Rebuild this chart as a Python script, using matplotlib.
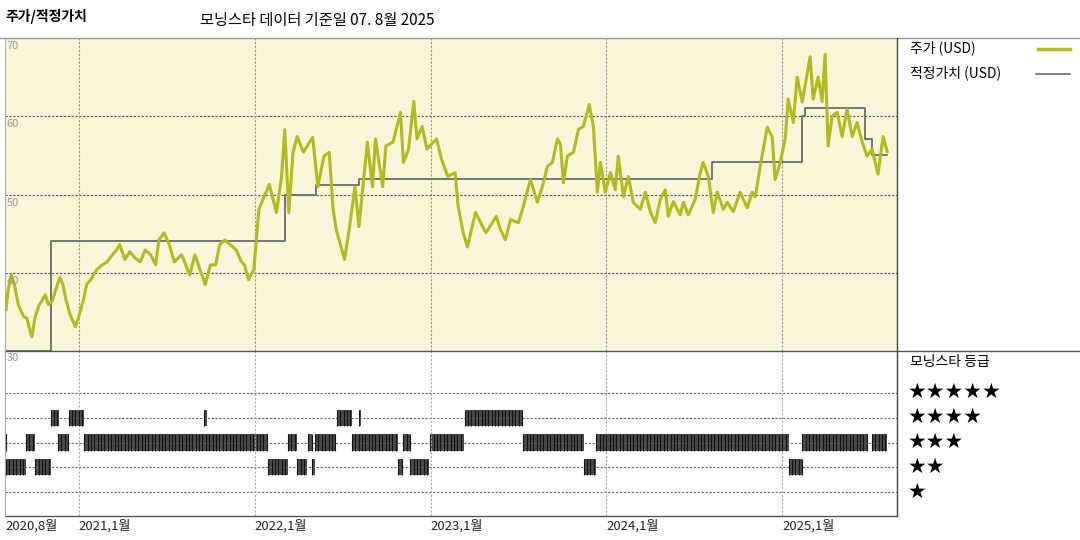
import numpy as np
import matplotlib
matplotlib.use("Agg")
import matplotlib.pyplot as plt
from matplotlib.lines import Line2D

plt.rcParams['font.family'] = ['Noto Sans CJK KR', 'DejaVu Sans']

# ---- data ----
price_t = [2020.586,2020.598,2020.616,2020.633,2020.656,2020.686,2020.704,2020.721,2020.733,2020.750,
           2020.774,2020.792,2020.809,2020.827,2020.850,2020.868,2020.892,2020.909,2020.927,2020.951,
           2020.980,2020.997,2021.026,2021.044,2021.067,2021.102,2021.132,2021.161,2021.190,2021.214,
           2021.232,2021.262,2021.290,2021.319,2021.349,2021.378,2021.408,2021.437,2021.455,2021.485,
           2021.514,2021.543,2021.584,2021.601,2021.631,2021.660,2021.689,2021.719,2021.748,2021.778,
           2021.801,2021.831,2021.860,2021.895,2021.925,2021.942,2021.965,2021.995,2022.024,2022.083,
           2022.124,2022.153,2022.171,2022.194,2022.218,2022.242,2022.277,2022.330,2022.359,2022.394,
           2022.424,2022.446,2022.464,2022.511,2022.540,2022.570,2022.593,2022.641,2022.670,2022.687,
           2022.728,2022.746,2022.787,2022.829,2022.846,2022.875,2022.905,2022.923,2022.952,2022.980,
           2023.034,2023.063,2023.098,2023.140,2023.157,2023.186,2023.210,2023.256,2023.315,2023.374,
           2023.398,2023.426,2023.455,2023.500,2023.528,2023.568,2023.608,2023.636,2023.665,2023.693,
           2023.722,2023.739,2023.756,2023.778,2023.813,2023.841,2023.869,2023.903,2023.926,2023.949,
           2023.966,2023.994,2024.023,2024.051,2024.068,2024.097,2024.125,2024.153,2024.193,2024.222,
           2024.250,2024.278,2024.307,2024.335,2024.352,2024.381,2024.420,2024.438,2024.466,2024.506,
           2024.534,2024.551,2024.580,2024.608,2024.631,2024.665,2024.688,2024.722,2024.761,2024.801,
           2024.830,2024.847,2024.875,2024.915,2024.943,2024.960,2024.989,2025.017,2025.034,2025.063,
           2025.085,2025.114,2025.159,2025.176,2025.205,2025.227,2025.244,2025.261,2025.284,2025.313,
           2025.341,2025.369,2025.398,2025.426,2025.455,2025.483,2025.511,2025.545,2025.574,2025.597]
price_v = [35.3,37.8,39.7,38.5,35.9,34.4,34.2,32.7,31.8,34.2,
           35.9,36.5,37.2,35.9,36.5,37.8,39.4,38.5,36.5,34.6,
           33.1,34.2,36.5,38.5,39.1,40.4,41.0,41.4,42.3,42.9,
           43.6,41.7,42.7,41.9,41.4,42.9,42.3,41.0,44.2,45.1,
           43.6,41.4,42.3,41.4,39.7,42.3,40.4,38.5,41.0,41.0,
           43.6,44.2,43.6,42.9,41.4,41.0,39.1,40.4,48.1,51.3,
           47.7,52.3,58.3,47.7,55.4,57.4,55.4,57.3,51.0,54.9,
           55.4,48.1,45.5,41.7,45.9,51.0,45.9,56.7,51.0,57.1,
           51.0,56.2,56.7,60.5,54.1,55.8,61.9,57.1,58.7,55.8,
           57.1,54.5,52.3,52.8,48.5,45.1,43.3,47.7,45.1,47.2,
           45.5,44.2,46.8,46.4,48.5,51.9,49.0,51.0,53.6,54.1,
           57.1,56.4,51.5,54.9,55.4,58.3,58.7,61.5,58.7,50.3,
           54.1,50.3,52.8,50.6,54.9,49.7,52.3,49.0,48.1,50.3,
           47.8,46.4,49.4,50.6,47.2,49.1,47.4,49.0,47.4,49.4,
           52.8,54.1,52.3,47.7,50.3,48.1,49.0,47.8,50.3,48.3,
           50.3,49.7,53.6,58.6,57.4,51.9,54.1,57.1,62.2,59.2,
           65.0,61.8,67.6,62.2,65.0,61.9,67.9,56.2,60.0,60.5,
           57.4,60.9,57.4,59.2,56.7,54.9,55.8,52.6,57.4,55.5]

fv_t = [2020.586, 2020.841, 2022.170, 2022.347, 2022.591, 2024.602, 2025.114, 2025.131, 2025.472, 2025.511, 2025.597]
fv_v = [30.0, 44.1, 50.0, 51.2, 52.0, 54.1, 60.0, 61.0, 57.1, 55.0, 55.0]

rating_start = [2020.585,2020.586,2020.699,2020.752,2020.840,2020.880,2020.942,2021.030,2021.711,2022.077,
                2022.190,2022.243,2022.304,2022.327,2022.343,2022.468,2022.552,2022.591,2022.816,2022.846,
                2022.885,2022.999,2023.194,2023.527,2023.871,2023.942,2025.036,2025.115,2025.510]
rating_end =   [2020.590,2020.698,2020.752,2020.844,2020.886,2020.942,2021.030,2022.073,2021.727,2022.190,
                2022.239,2022.298,2022.327,2022.341,2022.464,2022.552,2022.816,2022.603,2022.846,2022.885,
                2022.993,2023.189,2023.527,2023.871,2023.942,2025.036,2025.115,2025.487,2025.595]
rating_val =   [3,2,3,2,4,3,4,3,4,2,
                3,2,3,2,3,4,3,4,2,3,
                2,3,4,3,2,3,2,3,3]

tick_pos = [2020.585, 2021.0, 2022.0, 2023.0, 2024.0, 2025.0]
tick_lab = ["2020,8월", "2021,1월", "2022,1월", "2023,1월", "2024,1월", "2025,1월"]
ylab = [70, 60, 50, 40]

# ---- figure ----
W, H = 1080, 540
fig = plt.figure(figsize=(10.8, 5.4), dpi=100)
def fx(x): return x / W
def fy(y): return 1 - y / H

xmin, xmax = 2020.580, 2025.653
olive = '#b3ba1e'

ax = fig.add_axes([fx(5), fy(351), fx(897) - fx(5), fy(38) - fy(351)])
ax.set_facecolor('#f9f5d9')
ax.set_xlim(xmin, xmax)
ax.set_ylim(30, 70)
for v in [40, 50, 60]:
    ax.axhline(v, color='#555555', lw=0.8, ls=(0, (2, 1.5)))
for t in tick_pos[1:]:
    ax.axvline(t, color='#999999', lw=0.8, ls=(0, (2, 1.5)))
ax.step(fv_t, fv_v, where='post', color='#6a6a6a', lw=1.3)
ax.plot(price_t, price_v, color=olive, lw=2.2)
for v in ylab:
    ax.text(xmin + 0.01, v - 0.4, str(v), color='#999999', fontsize=8, va='top', ha='left')
ax.set_xticks([]); ax.set_yticks([])
for s in ax.spines.values():
    s.set_visible(False)

# ratings panel
ar = fig.add_axes([fx(5), fy(516), fx(897) - fx(5), fy(351) - fy(516)])
ar.set_xlim(xmin, xmax)
ar.set_ylim(0.03, 6.70)
for r in range(1, 6):
    ar.axhline(r, color='#666666', lw=0.8, ls=(0, (2, 1.5)))
for t in tick_pos[1:]:
    ar.axvline(t, color='#aaaaaa', lw=0.8, ls=(0, (2, 1.5)))
for s0, s1, r in zip(rating_start, rating_end, rating_val):
    ar.broken_barh([(s0, s1 - s0)], (r - 0.33, 0.66), facecolor='#4a4a4a', edgecolor='none')
    wk = np.arange(s0, s1, 1 / 52)
    ar.vlines(wk, r - 0.33, r + 0.33, color='#111111', lw=0.8)
ar.text(xmin + 0.01, 6.6, "30", color='#999999', fontsize=8, va='top', ha='left')
ar.set_xticks([]); ar.set_yticks([])
for s in ar.spines.values():
    s.set_visible(False)
for t, lab in zip(tick_pos, tick_lab):
    ar.text(t, -0.1, lab, fontsize=9.5, va='top', ha='left', color='#222222')

# frame lines
def hline(y, x0, x1, c='#555555', lw=1.0):
    fig.add_artist(Line2D([fx(x0), fx(x1)], [fy(y), fy(y)], color=c, lw=lw))
def vline(x, y0, y1, c='#555555', lw=1.0):
    fig.add_artist(Line2D([fx(x), fx(x)], [fy(y0), fy(y1)], color=c, lw=lw))
hline(38, 0, 1080, '#999999')
hline(351, 5, 1080, '#555555')
hline(516, 5, 897, '#555555')
vline(897, 38, 516, '#444444')
vline(5, 38, 516, '#aaaaaa', 0.8)

# texts
fig.text(fx(5), fy(17), "주가/적정가치", fontsize=10, fontweight='bold', va='center', ha='left')
fig.text(fx(200), fy(20), "모닝스타 데이터 기준일 07. 8월 2025", fontsize=11, va='center', ha='left')
fig.text(fx(910), fy(48), "주가 (USD)", fontsize=10, va='center', ha='left')
hline(49, 1038, 1070, olive, 2.5)
fig.text(fx(910), fy(73), "적정가치 (USD)", fontsize=10, va='center', ha='left')
hline(74, 1036, 1070, '#6a6a6a', 1.2)
fig.text(fx(910), fy(362), "모닝스타 등급", fontsize=10, va='center', ha='left')
for i, n in enumerate([5, 4, 3, 2, 1]):
    fig.text(fx(908), fy(392 + 25 * i), "★" * n, fontsize=15, va='center', ha='left',
             family=['DejaVu Sans'])

fig.savefig("out.png", dpi=100, facecolor='white')
